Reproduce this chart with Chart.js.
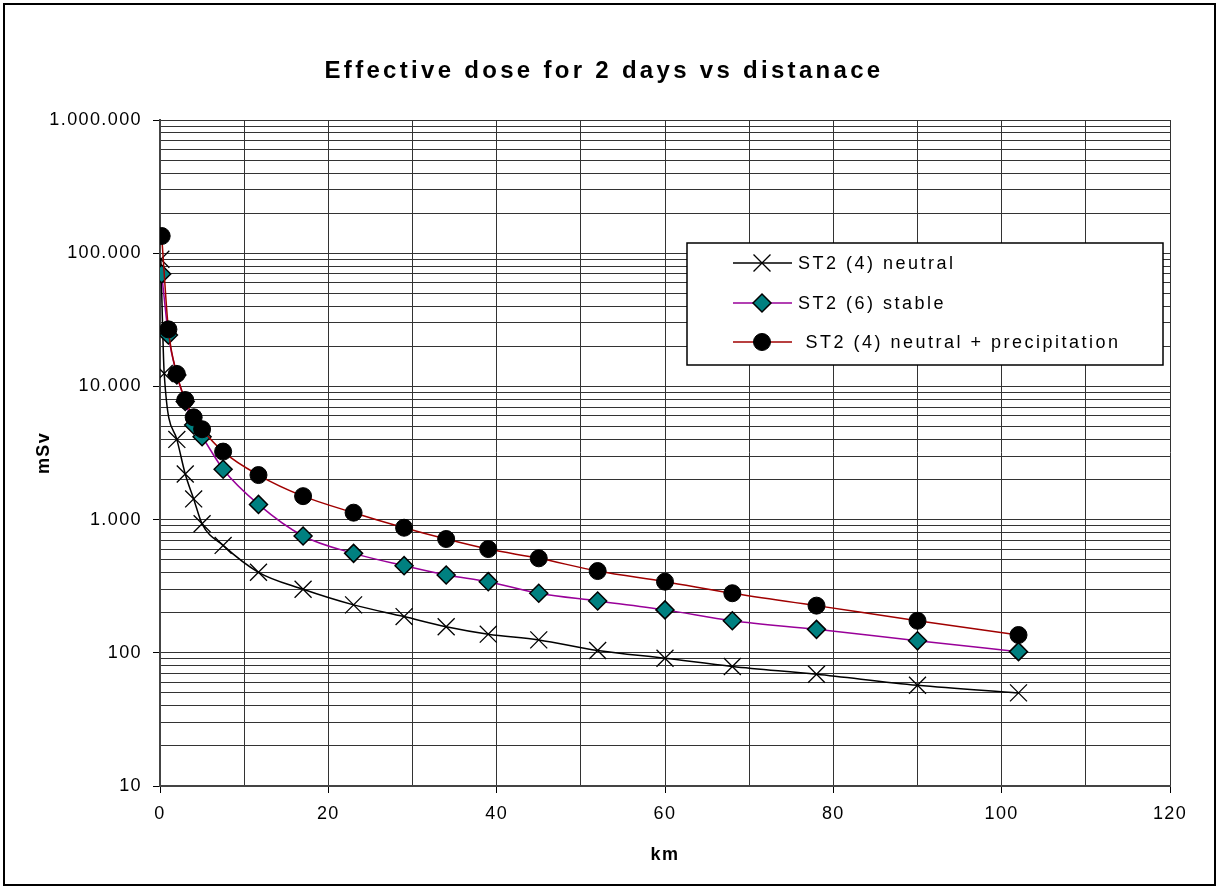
<!DOCTYPE html>
<html><head><meta charset="utf-8">
<script src="https://cdn.jsdelivr.net/npm/chart.js@4.4.1/dist/chart.umd.min.js"></script>
<style>html,body{margin:0;padding:0;background:#fff;} canvas{display:block;}</style>
</head><body>
<canvas id="c" width="1219" height="889"></canvas>
<script>
const titleText = 'Effective dose for 2 days vs distanace';
const xTitle = 'km';
const yTitle = 'mSv';
const seriesNames = ['ST2 (4) neutral', 'ST2 (6) stable', ' ST2 (4) neutral + precipitation'];
const distNeutral = [0.1, 0.5, 2, 3, 4, 5, 7.5, 11.7, 17, 23, 29, 34, 39, 45, 52, 60, 68, 78, 90, 102];
const distOther   = [0.2, 1, 2, 3, 4, 5, 7.5, 11.7, 17, 23, 29, 34, 39, 45, 52, 60, 68, 78, 90, 102];
const doseNeutral = [90000, 12500, 4000, 2200, 1430, 930, 640, 402, 300, 229, 187, 157, 138, 125, 104, 91, 79, 69, 57, 50];
const doseStable  = [69800, 24300, 12200, 7700, 5130, 4190, 2390, 1300, 753, 558, 451, 384, 342, 280, 245, 210, 174, 150, 123, 102];
const dosePrecip  = [134600, 26800, 12400, 7900, 5860, 4770, 3240, 2160, 1500, 1127, 869, 715, 601, 512, 411, 342, 280, 226, 174, 136];
const xTickLabels = ['0', '20', '40', '60', '80', '100', '120'];
const yTickLabels = ['10', '100', '1.000', '10.000', '100.000', '1.000.000'];

const FONT = "'Liberation Sans', Arial, sans-serif";
const GRID = '#333333';

function pts(xs, ys) { return xs.map((x, i) => ({x: x, y: ys[i]})); }

const datasets = [
  {label: seriesNames[0], data: pts(distNeutral, doseNeutral), borderColor: '#000000', backgroundColor: '#000000',
   borderWidth: 1.5, pointStyle: 'crossRot', pointRadius: 12, pointBorderWidth: 1.3,
   pointBorderColor: '#000000', pointBackgroundColor: '#000000', order: 3, cubicInterpolationMode: 'monotone'},
  {label: seriesNames[1], data: pts(distOther, doseStable), borderColor: '#990099', backgroundColor: '#008080',
   borderWidth: 1.5, pointStyle: 'rectRot', pointRadius: 9, pointBorderWidth: 1.5,
   pointBorderColor: '#000000', pointBackgroundColor: '#008080', order: 2, cubicInterpolationMode: 'monotone'},
  {label: seriesNames[2], data: pts(distOther, dosePrecip), borderColor: '#a00000', backgroundColor: '#000000',
   borderWidth: 1.5, pointStyle: 'circle', pointRadius: 8.5, pointBorderWidth: 1,
   pointBorderColor: '#000000', pointBackgroundColor: '#000000', order: 1, cubicInterpolationMode: 'monotone'}
];

function isDecade(v) { const l = Math.log10(v); return Math.abs(l - Math.round(l)) < 1e-9; }

const framePlugin = {
  id: 'frameTitleLegend',
  beforeLayout(chart) { chart.ctx.letterSpacing = '1.4px'; },
  beforeDraw(chart) {
    const ctx = chart.ctx;
    ctx.save();
    ctx.fillStyle = '#fff';
    ctx.fillRect(0, 0, chart.width, chart.height);
    ctx.restore();
    ctx.letterSpacing = '1.4px';
  },
  afterDraw(chart) {
    const ctx = chart.ctx;
    ctx.save();
    // outer frame
    ctx.strokeStyle = '#000';
    ctx.lineWidth = 2;
    ctx.strokeRect(4, 4, 1211, 881);
    // title
    ctx.letterSpacing = '3.3px';
    ctx.font = 'bold 24px ' + FONT;
    ctx.fillStyle = '#000';
    ctx.textAlign = 'center';
    ctx.textBaseline = 'middle';
    ctx.fillText(titleText, 604, 71);
    // legend
    const bx = 687, by = 243, bw = 476, bh = 122;
    ctx.fillStyle = '#fff';
    ctx.fillRect(bx, by, bw, bh);
    ctx.strokeStyle = '#000';
    ctx.lineWidth = 1.5;
    ctx.strokeRect(bx, by, bw, bh);
    const rows = [263, 303, 342];
    ctx.letterSpacing = '2.5px';
    ctx.font = '18px ' + FONT;
    ctx.textAlign = 'left';
    ctx.textBaseline = 'middle';
    chart.data.datasets.forEach((ds, i) => {
      const y = rows[i];
      ctx.strokeStyle = ds.borderColor;
      ctx.lineWidth = ds.borderWidth;
      ctx.beginPath();
      ctx.moveTo(733, y);
      ctx.lineTo(792, y);
      ctx.stroke();
      ctx.fillStyle = ds.pointBackgroundColor;
      ctx.strokeStyle = ds.pointBorderColor;
      ctx.lineWidth = ds.pointBorderWidth;
      Chart.helpers.drawPoint(ctx, {pointStyle: ds.pointStyle, radius: ds.pointRadius, rotation: 0, borderWidth: ds.pointBorderWidth}, 762, y);
      ctx.fillStyle = '#000';
      ctx.fillText(ds.label, 798, y + 1);
    });
    ctx.restore();
  }
};

new Chart(document.getElementById('c'), {
  type: 'line',
  data: {datasets: datasets},
  plugins: [framePlugin],
  options: {
    responsive: false,
    animation: false,
    events: [],
    layout: {padding: {left: 10, top: 120, right: 49, bottom: 23}},
    plugins: {legend: {display: false}, title: {display: false}, tooltip: {enabled: false}},
    scales: {
      x: {
        type: 'linear', min: 0, max: 120,
        afterFit(s) { s.height = 80; },
        afterBuildTicks(s) { const t = []; for (let v = 0; v <= 120; v += 10) t.push({value: v}); s.ticks = t; },
        ticks: {
          autoSkip: false, maxRotation: 0, padding: 10, color: '#000',
          font: {family: FONT, size: 18},
          callback: (v) => (v % 20 === 0 ? xTickLabels[v / 20] : '')
        },
        grid: {
          color: GRID, lineWidth: 1, tickLength: 7,
          tickColor: (c) => (c.tick && c.tick.value % 20 === 0 ? '#000' : 'rgba(0,0,0,0)')
        },
        border: {color: '#444', width: 2},
        title: {display: true, text: xTitle, color: '#000', font: {family: FONT, size: 18, weight: 'bold'}, padding: {top: 0, bottom: 0}}
      },
      y: {
        type: 'logarithmic', min: 10, max: 1000000,
        afterFit(s) { s.width = 150; },
        afterBuildTicks(s) {
          const t = [];
          for (let e = 1; e <= 6; e++) {
            for (let m = 1; m <= 9; m++) {
              const v = m * Math.pow(10, e);
              if (v <= 1000000) t.push({value: v});
            }
          }
          s.ticks = t;
        },
        ticks: {
          autoSkip: false, padding: 11, color: '#000',
          font: {family: FONT, size: 18},
          callback: (v) => (isDecade(v) ? yTickLabels[Math.round(Math.log10(v)) - 1] : '')
        },
        grid: {
          color: GRID, lineWidth: 1, tickLength: 7,
          tickColor: (c) => (c.tick && isDecade(c.tick.value) ? '#000' : 'rgba(0,0,0,0)')
        },
        border: {color: '#444', width: 2},
        title: {display: true, text: yTitle, color: '#000', font: {family: FONT, size: 18, weight: 'bold'}, padding: {top: 23, bottom: 0}}
      }
    }
  }
});
</script>
</body></html>
